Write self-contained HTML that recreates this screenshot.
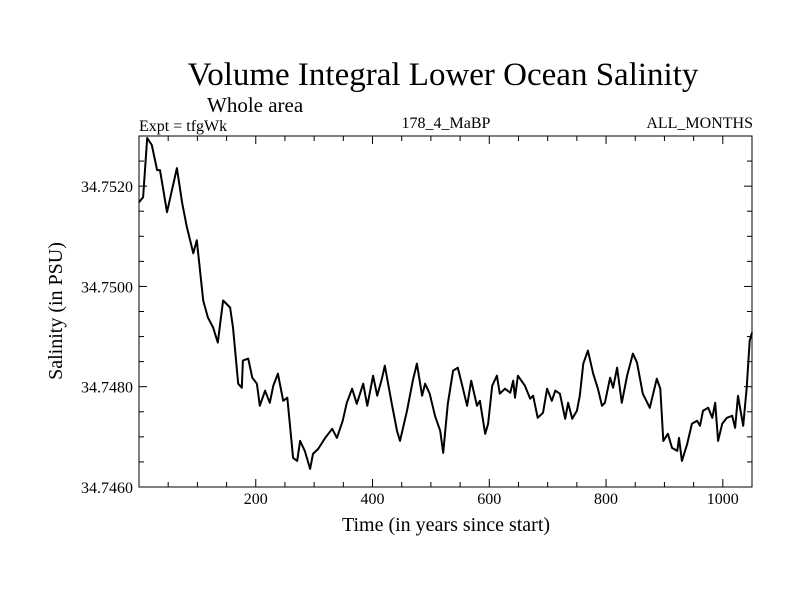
<!DOCTYPE html>
<html><head><meta charset="utf-8"><style>
body{margin:0;background:#fff;width:800px;height:600px;overflow:hidden}
text{font-family:"Liberation Serif",serif;fill:#000}
</style></head><body>
<svg id="chart" width="800" height="600">
<text x="443" y="85" font-size="33" text-anchor="middle">Volume Integral Lower Ocean Salinity</text>
<text x="207" y="112" font-size="21">Whole area</text>
<text x="139" y="131" font-size="16">Expt = tfgWk</text>
<text x="446" y="128" font-size="16" text-anchor="middle">178_4_MaBP</text>
<text x="753" y="128" font-size="16" text-anchor="end">ALL_MONTHS</text>
<text x="446" y="531" font-size="20" text-anchor="middle">Time (in years since start)</text>
<text transform="translate(62,311) rotate(-90)" font-size="20" text-anchor="middle">Salinity (in PSU)</text>
<g id="axes"></g>
<path id="line" fill="none" stroke="#000" stroke-width="2" stroke-linejoin="round"/>
<rect x="139" y="136" width="613" height="351" fill="none" stroke="#000" stroke-width="1"/>
</svg>
<script>
const years=[0,7,14,22,31,36,48,65,74,82,93,99,110,118,127,135,144,156,161,170,176,178,187,194,202,207,216,224,230,238,247,254,264,271,276,284,293,298,307,319,331,339,349,356,365,373,384,391,401,408,416,421,433,442,447,459,469,476,485,490,498,507,516,521,529,538,546,553,562,569,579,584,593,598,605,613,618,627,636,641,644,649,661,670,675,683,692,699,707,713,721,730,735,742,750,755,761,769,778,786,793,798,807,812,819,827,836,846,853,863,875,887,893,898,906,913,922,925,930,939,947,956,961,966,975,982,987,992,999,1007,1016,1021,1026,1029,1035,1041,1046,1050];
const salinity=[34.75168,34.75178,34.75296,34.75282,34.75232,34.75232,34.75148,34.75236,34.75166,34.75118,34.75066,34.75092,34.74972,34.74938,34.74918,34.74888,34.74972,34.74958,34.74918,34.74806,34.74798,34.74852,34.74856,34.74818,34.74806,34.74762,34.74792,34.74768,34.74802,34.74826,34.74772,34.74778,34.74658,34.74652,34.74692,34.74672,34.74636,34.74666,34.74676,34.74698,34.74716,34.74698,34.74732,34.74768,34.74796,34.74766,34.74806,34.74762,34.74822,34.74782,34.74816,34.74842,34.74766,34.74712,34.74692,34.74752,34.74812,34.74846,34.74782,34.74806,34.74786,34.74742,34.74712,34.74668,34.74766,34.74832,34.74838,34.74806,34.74762,34.74812,34.74762,34.74772,34.74706,34.74726,34.74802,34.74822,34.74786,34.74796,34.74788,34.74812,34.74778,34.74822,34.74802,34.74776,34.74782,34.74738,34.74748,34.74796,34.74772,34.74792,34.74786,34.74736,34.74768,34.74736,34.74752,34.74782,34.74846,34.74872,34.74826,34.74796,34.74762,34.74768,34.74818,34.74798,34.74838,34.74768,34.74822,34.74866,34.74848,34.74786,34.74758,34.74816,34.74796,34.74692,34.74706,34.74678,34.74672,34.74698,34.74652,34.74686,34.74726,34.74732,34.74722,34.74752,34.74758,34.74738,34.74768,34.74692,34.74726,34.74738,34.74742,34.74718,34.74782,34.74762,34.74722,34.74798,34.74892,34.74908];
const xTicks=[200,400,600,800,1000];
const yTicks=[34.746,34.748,34.750,34.752];
const yTickLabels=["34.7460","34.7480","34.7500","34.7520"];
const X0=139,X1=752,Y0=487,Y1=136,XMIN=0,XMAX=1050,YMIN=34.746,YMAX=34.753;
function sx(v){return X0+(v-XMIN)/(XMAX-XMIN)*(X1-X0);}
function sy(v){return Y0-(v-YMIN)/(YMAX-YMIN)*(Y0-Y1);}
const NS="http://www.w3.org/2000/svg";
const axes=document.getElementById('axes');
function ln(x1,y1,x2,y2){const l=document.createElementNS(NS,'line');l.setAttribute('x1',x1);l.setAttribute('y1',y1);l.setAttribute('x2',x2);l.setAttribute('y2',y2);l.setAttribute('stroke','#000');


axes.appendChild(l);}
function tx(x,y,s,anchor,name){const t=document.createElementNS(NS,'text');t.setAttribute('x',x);t.setAttribute('y',y);t.setAttribute('font-size','16');t.setAttribute('text-anchor',anchor);t.textContent=s;


axes.appendChild(t);}
for(let v=50;v<XMAX;v+=50){const x=sx(v);const major=v%200===0;const L=major?8:5;ln(x,Y0,x,Y0-L);ln(x,Y1,x,Y1+L);}
xTicks.forEach(v=>tx(sx(v),504,String(v),'middle','x-tick-label'));
for(let i=0;i<=14;i++){const v=YMIN+i*0.0005;const y=sy(v);const major=i%4===0;const L=major?8:5;ln(X0,y,X0+L,y);ln(X1,y,X1-L,y);}
yTicks.forEach((v,i)=>tx(133,sy(v)+6,yTickLabels[i],'end','y-tick-label'));
let d='';years.forEach((yr,i)=>{d+=(i?'L':'M')+sx(yr).toFixed(1)+','+sy(salinity[i]).toFixed(1);});
document.getElementById('line').setAttribute('d',d);
</script>
</body></html>
